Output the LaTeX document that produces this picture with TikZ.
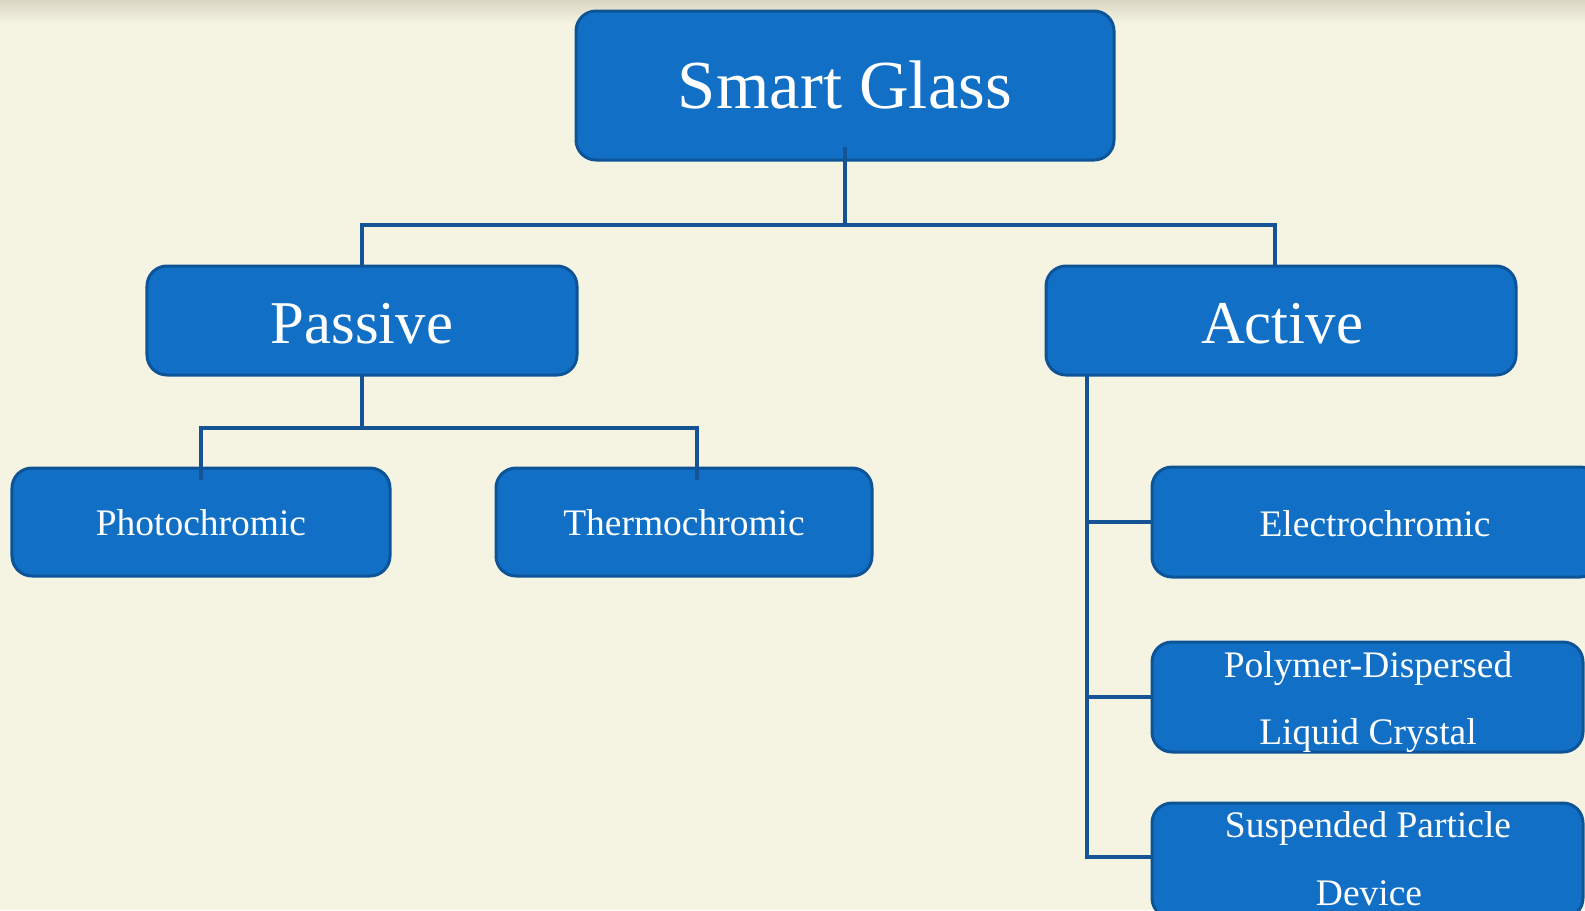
\documentclass[tikz,border=0pt]{standalone}
\usepackage{fontspec}
\setmainfont{Liberation Serif}
\definecolor{bg}{HTML}{F5F3E2}
\definecolor{bgtop}{HTML}{DAD8C4}
\definecolor{boxfill}{HTML}{1170C6}
\definecolor{boxline}{HTML}{0D5497}
\definecolor{conn}{HTML}{155494}
\begin{document}
\begin{tikzpicture}[x=1bp,y=-1bp,
  box/.style={draw=boxline, fill=boxfill, line width=3bp, rounded corners=20bp, inner sep=0pt, outer sep=0pt},
  lbl/.style={text=white, anchor=base, inner sep=0pt},
  big/.style={font=\fontsize{69}{69}\selectfont},
  mid/.style={font=\fontsize{61}{61}\selectfont},
  small/.style={font=\fontsize{37.6}{37.6}\selectfont},
  wire/.style={draw=conn, line width=3.5bp}]
\useasboundingbox (0,0) rectangle (1585,910);
\begin{scope}
\clip (0,0) rectangle (1585,910);
\fill[bg] (0,0) rectangle (1585,910);
\shade[top color=bgtop, bottom color=bg] (0,0) rectangle (1585,24);
% boxes
\node[box, minimum width=538bp, minimum height=149bp] (sg) at (845,85.5) {};
\node[box, minimum width=430bp, minimum height=109bp] (pas) at (362,320.5) {};
\node[box, minimum width=470bp, minimum height=109bp] (act) at (1281,320.5) {};
\node[box, minimum width=378bp, minimum height=108bp] (pho) at (201,522) {};
\node[box, minimum width=376bp, minimum height=108bp] (the) at (684,522) {};
\node[box, minimum width=448bp, minimum height=110bp] (ele) at (1376,522) {};
\node[box, minimum width=431bp, minimum height=110bp] (pdl) at (1367.5,697) {};
\node[box, minimum width=431bp, minimum height=115bp] (spd) at (1367.5,860.5) {};
% connectors
\coordinate (b1) at (845,225);
\coordinate (b2) at (362,428);
\coordinate (acol) at (1087,0);
\draw[wire] ([yshift=13bp]sg.south) -- (b1);
\draw[wire] (pas.north) |- (b1) -| ([xshift=-6bp]act.north);
\draw[wire] (pas.south) -- (b2);
\draw[wire] ([yshift=-12bp]pho.north) |- (b2) -| ([xshift=13bp,yshift=-12bp]the.north);
\draw[wire] (act.south -| acol) |- ([yshift=3.5bp]spd.west);
\draw[wire] (ele.west -| acol) -- (ele.west);
\draw[wire] (pdl.west -| acol) -- (pdl.west);
% labels
\node[lbl, big] (tsg) at (845,108) {Smart Glass};
\node[lbl, mid] (tpas) at (362,343) {Passive};
\node[lbl, mid] (tact) at (1282,343) {Active};
\node[lbl, small] (tpho) at (201,535) {Photochromic};
\node[lbl, small] (tthe) at (684,535) {Thermochromic};
\node[lbl, small] (tele) at (1375,536) {Electrochromic};
\node[lbl, small] (tpdl1) at (1368,677) {Polymer-Dispersed};
\node[lbl, small] (tpdl2) at (1368,744) {Liquid Crystal};
\node[lbl, small] (tspd1) at (1368,837) {Suspended Particle};
\node[lbl, small] (tspd2) at (1369,905) {Device};
\end{scope}
\end{tikzpicture}
\end{document}
